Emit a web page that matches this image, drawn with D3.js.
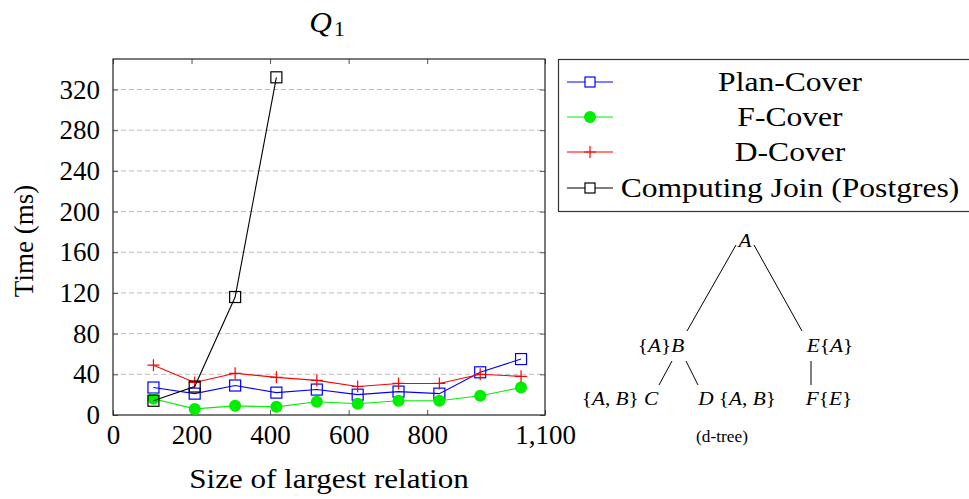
<!DOCTYPE html>
<html>
<head>
<meta charset="utf-8">
<script src="https://cdn.jsdelivr.net/npm/d3@7"></script>
<style>
  html, body { margin: 0; padding: 0; background: #fff; }
  svg { display: block; }
  text { font-family: "Liberation Serif", "DejaVu Serif", serif; fill: #000; }
</style>
</head>
<body>
<svg id="chart" width="969" height="499"></svg>
<script>
// Relation sizes (x) and running times (ms) per method
const sizes = [103, 208, 311, 416, 519, 623, 727, 831, 935, 1039];
const planCover = [27, 21, 29, 22, 25, 20, 23, 21, 42, 55];
const fCover = [16, 6, 9, 8, 13, 11, 14, 14, 19, 27];
const dCover = [49, 32, 41, 37, 34, 28, 31, 31, 40, 38];
const joinSizes = [103, 208, 311, 416];
const computingJoin = [14, 28, 116, 332];

const xTicks = [0, 200, 400, 600, 800, 1100];
const yTicks = [0, 40, 80, 120, 160, 200, 240, 280, 320];

const seriesNames = ["Plan-Cover", "F-Cover", "D-Cover", "Computing Join (Postgres)"];

const svg = d3.select("#chart");
const plotL = 113, plotR = 545, plotT = 59, plotB = 415;
const x = d3.scaleLinear().domain([0, 1100]).range([plotL, plotR]);
const y = d3.scaleLinear().domain([0, 350]).range([plotB, plotT]);

const fmt = d3.format(",");
const FS = 27;
const WIDEN = 1.15; // horizontal stretch for the wide roman text

// dashed horizontal grid
svg.append("g").selectAll("line")
  .data(yTicks.filter(d => d > 0))
  .join("line")
  .attr("x1", plotL).attr("x2", plotR)
  .attr("y1", d => y(d)).attr("y2", d => y(d))
  .attr("stroke", "#bdbdbd").attr("stroke-width", 1)
  .attr("stroke-dasharray", "5,3");

// axes (inner ticks on all four sides)
const axB = svg.append("g").attr("transform", `translate(0,${plotB})`)
  .call(d3.axisBottom(x).tickValues(xTicks).tickFormat(fmt).tickSizeInner(-5).tickSizeOuter(0).tickPadding(10));
const axT = svg.append("g").attr("transform", `translate(0,${plotT})`)
  .call(d3.axisTop(x).tickValues(xTicks).tickFormat("").tickSizeInner(-5).tickSizeOuter(0));
const axL = svg.append("g").attr("transform", `translate(${plotL},0)`)
  .call(d3.axisLeft(y).tickValues(yTicks).tickSizeInner(-5).tickSizeOuter(0).tickPadding(13));
const axR = svg.append("g").attr("transform", `translate(${plotR},0)`)
  .call(d3.axisRight(y).tickValues(yTicks).tickFormat("").tickSizeInner(-5).tickSizeOuter(0));
[axB, axT, axL, axR].forEach(g => {
  g.attr("font-family", null);
  g.select(".domain").remove();
  g.selectAll(".tick line").attr("stroke", "#555").attr("stroke-width", 1);
  g.selectAll("text").attr("font-size", FS).attr("fill", "#000");
});
axB.selectAll("text").attr("dy", "0.71em");

// plot frame
svg.append("rect")
  .attr("x", plotL).attr("y", plotT).attr("width", plotR - plotL).attr("height", plotB - plotT)
  .attr("fill", "none").attr("stroke", "#222").attr("stroke-width", 1.2);

// series drawing
const line = d3.line().x(d => x(d[0])).y(d => y(d[1]));

function drawMarker(g, type, color, cx, cy) {
  if (type === "square") {
    g.append("rect").attr("x", cx - 5.5).attr("y", cy - 5.5).attr("width", 11).attr("height", 11)
      .attr("fill", "none").attr("stroke", color).attr("stroke-width", 1.2);
  } else if (type === "circle") {
    g.append("circle").attr("cx", cx).attr("cy", cy).attr("r", 6).attr("fill", color);
  } else if (type === "plus") {
    g.append("path").attr("d", `M${cx - 6},${cy}H${cx + 6}M${cx},${cy - 6}V${cy + 6}`)
      .attr("stroke", color).attr("stroke-width", 1.2).attr("fill", "none");
  }
}

const series = [
  { name: seriesNames[0], xs: sizes, vals: planCover, color: "#0000ff", marker: "square" },
  { name: seriesNames[1], xs: sizes, vals: fCover, color: "#00ee00", marker: "circle" },
  { name: seriesNames[2], xs: sizes, vals: dCover, color: "#ff0000", marker: "plus" },
  { name: seriesNames[3], xs: joinSizes, vals: computingJoin, color: "#000000", marker: "square" }
];

series.forEach(s => {
  const pts = s.xs.map((v, i) => [v, s.vals[i]]);
  const g = svg.append("g");
  g.append("path").datum(pts).attr("d", line)
    .attr("fill", "none").attr("stroke", s.color).attr("stroke-width", 1.1);
  pts.forEach(p => drawMarker(g, s.marker, s.color, x(p[0]), y(p[1])));
});

// centred text stretched horizontally about its anchor
function wideText(parent, cx, cy, size, str, sx) {
  return parent.append("text")
    .attr("transform", `translate(${cx},${cy}) scale(${sx},1)`)
    .attr("text-anchor", "middle").attr("font-size", size).text(str);
}

// title Q_1
const title = svg.append("text").attr("transform", "translate(327,32) scale(1.08,1)")
  .attr("text-anchor", "middle").attr("font-size", 29);
title.append("tspan").attr("font-style", "italic").text("Q");
title.append("tspan").attr("font-size", 20).attr("dx", 2).attr("dy", 4).text("1");

// axis labels
wideText(svg, 329, 488, FS, "Size of largest relation", WIDEN);
svg.append("text").attr("transform", `translate(33,${(plotT + plotB) / 2 + 4}) rotate(-90)`)
  .attr("text-anchor", "middle").attr("font-size", FS)
  .text("Time (ms)");

// legend
const lg = svg.append("g");
lg.append("rect").attr("x", 558.5).attr("y", 59.5).attr("width", 420).attr("height", 152)
  .attr("fill", "#fff").attr("stroke", "#333").attr("stroke-width", 1.2);
const rowY = [82, 117, 152, 188];
series.forEach((s, i) => {
  const cy = rowY[i];
  lg.append("line").attr("x1", 567).attr("x2", 613).attr("y1", cy).attr("y2", cy)
    .attr("stroke", s.color).attr("stroke-width", 1.1);
  if (s.marker === "square") {
    lg.append("rect").attr("x", 585).attr("y", cy - 5).attr("width", 10).attr("height", 10)
      .attr("fill", "#fff").attr("stroke", s.color).attr("stroke-width", 1.2);
  } else {
    drawMarker(lg, s.marker, s.color, 590, cy);
  }
  wideText(lg, 790, cy + 9, FS, s.name, 1.17);
});

// d-tree diagram
const tree = svg.append("g");
const TS = 19;
function mathLabel(cx, cy, parts) {
  const t = tree.append("text").attr("transform", `translate(${cx},${cy}) scale(1.12,1)`)
    .attr("text-anchor", "middle").attr("font-size", TS);
  parts.forEach(p => {
    t.append("tspan").attr("font-style", p[1] ? "italic" : "normal").text(p[0]);
  });
}
mathLabel(745, 247, [["A", true]]);
mathLabel(661, 352, [["{", false], ["A", true], ["}", false], ["B", true]]);
mathLabel(830, 352, [["E", true], ["{", false], ["A", true], ["}", false]]);
mathLabel(620, 405, [["{", false], ["A", true], [", ", false], ["B", true], ["} ", false], ["C", true]]);
mathLabel(737, 405, [["D", true], [" {", false], ["A", true], [", ", false], ["B", true], ["}", false]]);
mathLabel(829, 405, [["F", true], ["{", false], ["E", true], ["}", false]]);
wideText(tree, 722, 442, 16, "(d-tree)", 1.08);
const edges = [
  [736, 245, 687, 331], [754, 245, 802, 331],
  [672, 361, 659, 385], [686, 361, 698, 385], [811, 361, 811, 385]
];
tree.selectAll("line.edge").data(edges).join("line").attr("class", "edge")
  .attr("x1", d => d[0]).attr("y1", d => d[1]).attr("x2", d => d[2]).attr("y2", d => d[3])
  .attr("stroke", "#000").attr("stroke-width", 1);
</script>
</body>
</html>
